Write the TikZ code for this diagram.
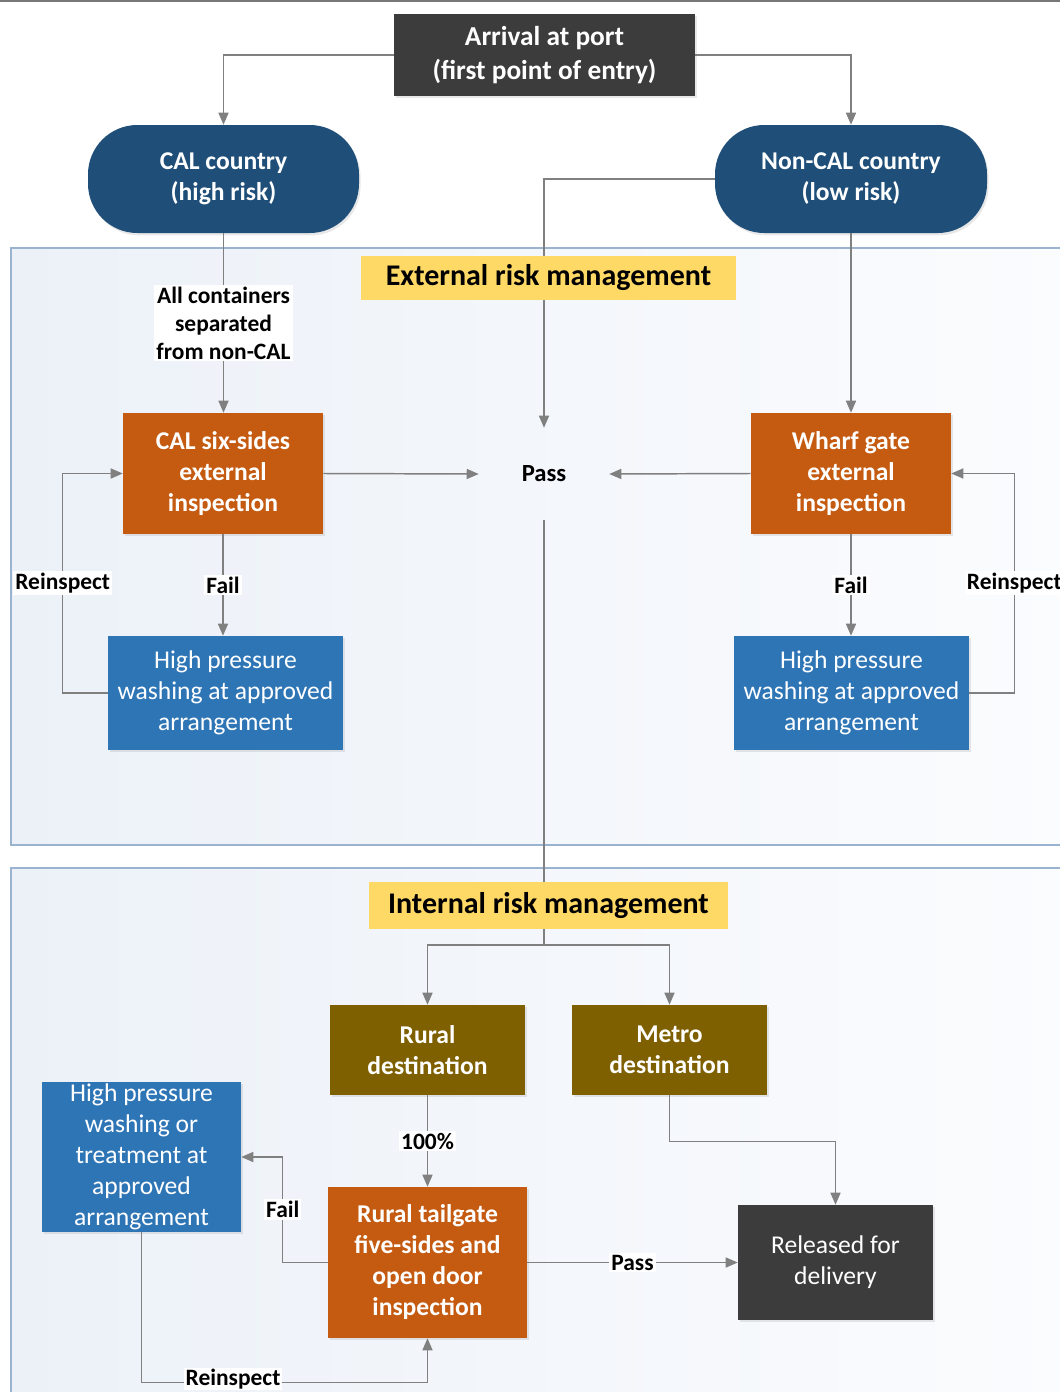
\documentclass[tikz,border=0pt]{standalone}
\usepackage{fontspec}
\setmainfont{Carlito}
\usetikzlibrary{arrows.meta,shadows,calc}
\definecolor{dgray}{HTML}{3C3C3C}
\definecolor{dblue}{HTML}{1F4E79}
\definecolor{orng}{HTML}{C55A11}
\definecolor{mblue}{HTML}{2E75B6}
\definecolor{olive}{HTML}{7F6000}
\definecolor{ylw}{HTML}{FFD966}
\definecolor{lgray}{HTML}{808080}
\definecolor{frame}{HTML}{9AB3D1}
\definecolor{bgA}{HTML}{ECF1F8}
\definecolor{bgB}{HTML}{FBFCFE}
\begin{document}
\begin{tikzpicture}[x=0.75pt,y=-0.75pt,
  shd/.style={drop shadow={shadow xshift=1.2pt,shadow yshift=-1.8pt,opacity=0.18}},
  box/.style={rectangle,text=white,align=center,inner sep=0pt,shd,
     font=\fontsize{19.2}{23.25}\selectfont\bfseries},
  plainbox/.style={box,font=\fontsize{19.2}{23.25}\selectfont},
  title/.style={rectangle,fill=ylw,inner sep=0pt,text=black,
     font=\fontsize{22.5}{26}\selectfont\bfseries},
  lbl/.style={fill=white,inner sep=1.5pt,text=black,align=center,
     font=\fontsize{17.6}{21}\selectfont\bfseries},
  conn/.style={draw=lgray,line width=1.1pt},
  arr/.style={conn,-{Triangle[length=9pt,width=7.5pt]}},
  panel/.style={draw=frame,line width=1.1pt,left color=bgA,right color=bgB}
]
\useasboundingbox (0,0) rectangle (1060,1392);
\fill[dgray!70] (0,0) rectangle (1060,2);

% panels
\path[panel] (11,248) rectangle (1080,845);
\path[panel] (11,868) rectangle (1080,1410);

% top nodes
\node[box,fill=dgray,minimum width=225.75pt,minimum height=61.5pt,
      font=\fontsize{20.5}{25.5}\selectfont\bfseries] (arrival) at (544.5,55)
      {Arrival at port\\(first point of entry)};
\node[box,fill=dblue,minimum width=203.25pt,minimum height=81pt,rounded corners=37pt] (cal) at (223.5,179)
      {CAL country\\(high risk)};
\node[box,fill=dblue,minimum width=204pt,minimum height=81pt,rounded corners=37pt] (noncal) at (851,179)
      {Non-CAL country\\(low risk)};

% external section
\node[box,fill=orng,minimum width=150pt,minimum height=90.75pt] (calinsp) at (223,473.5)
      {CAL six-sides\\external\\inspection};
\node[box,fill=orng,minimum width=150pt,minimum height=90.75pt] (wharf) at (851,473.5)
      {Wharf gate\\external\\inspection};
\node[plainbox,fill=mblue,minimum width=176.25pt,minimum height=85.5pt] (hpa) at (225.5,693)
      {High pressure\\washing at approved\\arrangement};
\node[plainbox,fill=mblue,minimum width=176.25pt,minimum height=85.5pt] (hpb) at (851.5,693)
      {High pressure\\washing at approved\\arrangement};
\node[minimum width=97.5pt,minimum height=69pt,inner sep=0pt,
      font=\fontsize{18.5}{21}\selectfont\bfseries] (pass) at (544,474) {Pass};

% internal section
\node[box,fill=olive,minimum width=146.25pt,minimum height=67.5pt] (rural) at (427.5,1050)
      {Rural\\destination};
\node[box,fill=olive,minimum width=146.25pt,minimum height=67.5pt] (metro) at (669.5,1050)
      {Metro\\destination};
\node[plainbox,fill=mblue,minimum width=149.25pt,minimum height=112.5pt] (hpc) at (141.5,1157)
      {High pressure\\washing or\\treatment at\\approved\\arrangement};
\node[box,fill=orng,minimum width=149.25pt,minimum height=113.25pt] (tail) at (427.5,1262.5)
      {Rural tailgate\\five-sides and\\open door\\inspection};
\node[plainbox,fill=dgray,minimum width=146.25pt,minimum height=86.25pt] (released) at (835.5,1262.5)
      {Released for\\delivery};

% connectors (top)
\draw[arr] (arrival.west) -| (cal.north);
\draw[arr] (arrival.east) -| (noncal.north);
\draw[arr] (noncal.west) -| (pass.north);
\draw[arr] (noncal.south) -- (wharf.north);
\draw[arr] (cal.south) -- node[lbl]{All containers\\separated\\from non-CAL} (cal.south |- calinsp.north);
\draw[arr] (calinsp.east) -- (pass.west);
\draw[arr] (wharf.west) -- (pass.east);
\draw[arr] (calinsp.south) -- node[lbl]{Fail} (calinsp.south |- hpa.north);
\draw[arr] (wharf.south) -- node[lbl]{Fail} (wharf.south |- hpb.north);
\draw[arr] (hpa.west) -- ++(-45,0) |- node[lbl,pos=0.25]{Reinspect} (calinsp.west);
\draw[arr] (hpb.east) -- ++(45,0) |- node[lbl,pos=0.25]{Reinspect} (wharf.east);

% titles (over lines)
\node[title,minimum width=281.25pt,minimum height=33pt] (exttitle) at (548.5,278) {External risk management};
\coordinate (split) at (544,945);
\draw[conn] (pass.south) -- (split);
\node[title,minimum width=269.25pt,minimum height=35.25pt] (inttitle) at (548.5,905.5) {Internal risk management};

% connectors (bottom)
\draw[arr] (split) -| (rural.north);
\draw[arr] (split) -| (metro.north);
\draw[arr] (rural.south) -- node[lbl]{100\%} (tail.north);
\draw[arr] (metro.south) -- ++(0,46) -| (released.north);
\draw[arr] (tail.west) -- ++(-45,0) |- node[lbl,pos=0.25]{Fail} (hpc.east);
\draw[arr] (tail.east) -- node[lbl]{Pass} (released.west);
\draw[arr] (hpc.south) -- ++(0,150) -| node[lbl,pos=0.16,yshift=2.5pt,inner sep=1pt]{Reinspect} (tail.south);
\end{tikzpicture}
\end{document}
